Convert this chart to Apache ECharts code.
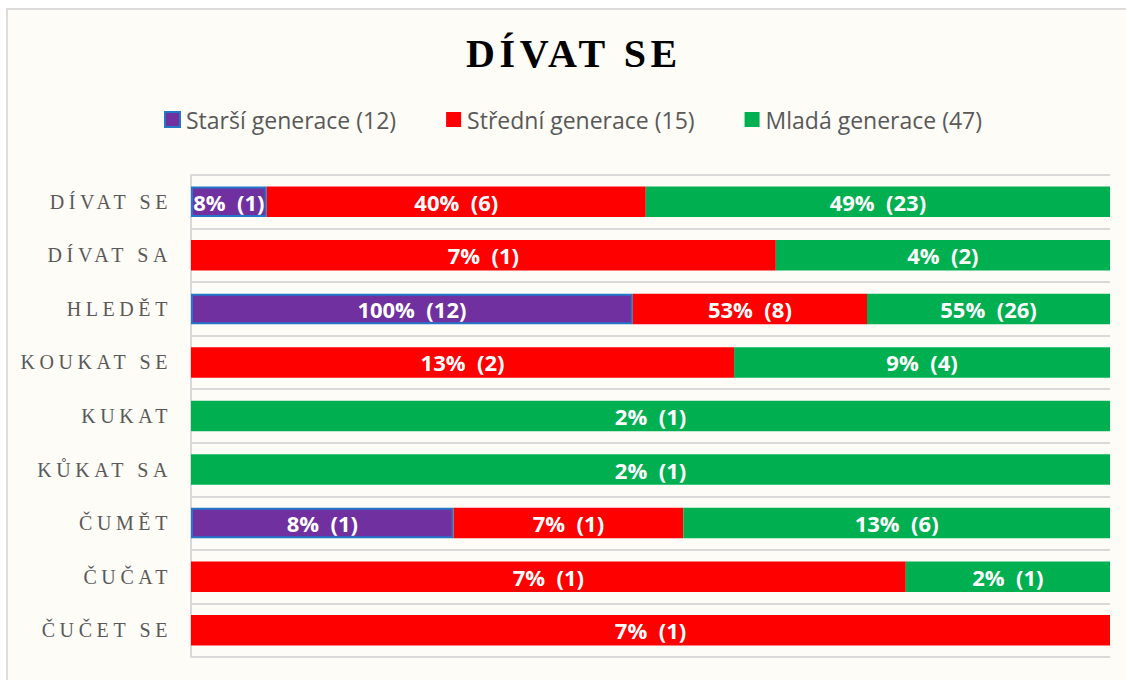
<!DOCTYPE html>
<html>
<head>
<meta charset="utf-8">
<script src="https://cdn.jsdelivr.net/npm/echarts@6/dist/echarts.min.js"></script>
<style>
  html, body { margin: 0; padding: 0; background: #ffffff; }
  #wrap { position: relative; width: 1126px; height: 680px; overflow: hidden; }
  #panel { position: absolute; left: 6px; top: 8px; width: 1140px; height: 700px;
           background: #FDFCF7; border: 2px solid #DCDCDC; box-sizing: border-box; }
  #chart { position: absolute; left: 0; top: 0; width: 1126px; height: 680px; }
  #chart text { white-space: pre; }
  #chart text[style*="Serif"], #chart text[font-family*="Serif"] { letter-spacing: 4.6px; }
  #chart text[style*="bold 40px"], #chart text[font-weight="bold"][font-size="40px"] { letter-spacing: 3.6px; }
</style>
</head>
<body>
<div id="wrap">
  <div id="panel"></div>
  <div id="chart"></div>
</div>
<script>
// Verbs of looking, share of respondents per generation (percent of group, count)
const categories = ['DÍVAT SE', 'DÍVAT SA', 'HLEDĚT', 'KOUKAT SE', 'KUKAT', 'KŮKAT SA', 'ČUMĚT', 'ČUČAT', 'ČUČET SE'];
const seriesNames = ['Starší generace (12)', 'Střední generace (15)', 'Mladá generace (47)'];
const olderPct    = [8, 0, 100, 0, 0, 0, 8, 0, 0];
const olderCount  = [1, 0, 12, 0, 0, 0, 1, 0, 0];
const middlePct   = [40, 7, 53, 13, 0, 0, 7, 7, 7];
const middleCount = [6, 1, 8, 2, 0, 0, 1, 1, 1];
const youngPct    = [49, 4, 55, 9, 2, 2, 13, 2, 0];
const youngCount  = [23, 2, 26, 4, 1, 1, 6, 1, 0];

const pcts = [olderPct, middlePct, youngPct];
const counts = [olderCount, middleCount, youngCount];
const colors = ['#7030A0', '#FF0000', '#00B050'];

// each row is stacked to 100 %, segments proportional to the group percentages
const rowTotals = categories.map((_, i) => olderPct[i] + middlePct[i] + youngPct[i]);
const shares = pcts.map(arr => arr.map((v, i) => v > 0 ? v / rowTotals[i] * 100 : null));

const chart = echarts.init(document.getElementById('chart'), null, { renderer: 'svg' });

const series = shares.map((data, s) => ({
  name: seriesNames[s],
  type: 'bar',
  stack: 'total',
  barCategoryGap: '43%',
  data: data,
  itemStyle: s === 0
    ? { color: colors[s], borderColor: '#2476C9', borderWidth: 2 }
    : { color: colors[s] },
  label: {
    show: true,
    position: 'inside',
    color: '#ffffff',
    fontFamily: 'Open Sans',
    fontWeight: 'bold',
    fontSize: 22,
    formatter: p => pcts[s][p.dataIndex] + '%  (' + counts[s][p.dataIndex] + ')'
  },
  emphasis: { disabled: true }
}));

chart.setOption({
  backgroundColor: 'transparent',
  animation: false,
  title: {
    text: 'DÍVAT SE',
    left: 461,
    top: 28,
    textStyle: { fontFamily: 'Liberation Serif', fontWeight: 'bold', fontSize: 40, color: '#000000' }
  },
  legend: {
    left: 159,
    top: 103,
    icon: 'rect',
    itemWidth: 15,
    itemHeight: 15,
    itemGap: 50,
    textStyle: { fontFamily: 'Open Sans', fontSize: 23, color: '#595959', padding: [0, 0, 0, 1] },
    data: seriesNames
  },
  grid: { left: 191, right: 16, top: 175, bottom: 23, containLabel: false },
  xAxis: { type: 'value', min: 0, max: 100, show: false },
  yAxis: {
    type: 'category',
    inverse: true,
    data: categories,
    axisTick: { show: false },
    axisLine: { show: true, lineStyle: { color: '#D9D9D9', width: 2 } },
    splitLine: { show: true, lineStyle: { color: '#D9D9D9', width: 2 } },
    axisLabel: { fontFamily: 'Liberation Serif', fontSize: 20, color: '#595959', margin: 19 }
  },
  series: series
});
</script>
</body>
</html>
